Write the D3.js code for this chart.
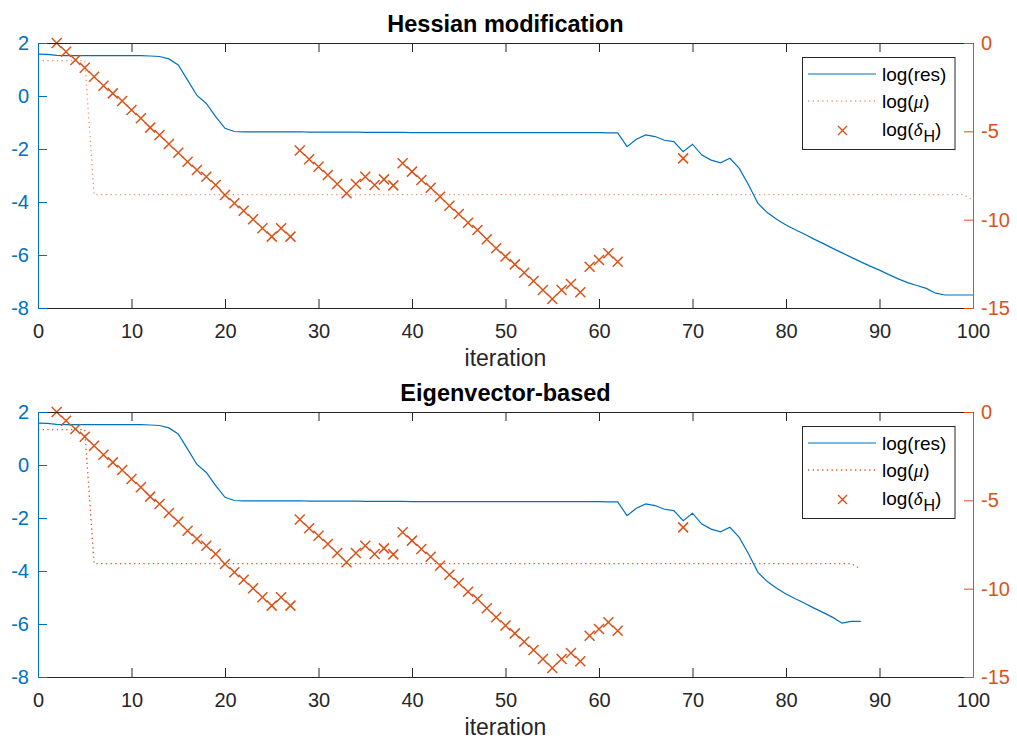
<!DOCTYPE html>
<html><head><meta charset="utf-8">
<script src="https://cdn.jsdelivr.net/npm/d3@7"></script>
<style>
body{margin:0;background:#fff}
svg{display:block}
text{font-family:"Liberation Sans",Arial,Helvetica,sans-serif}
</style>
</head><body>
<svg id="chart" width="1017" height="740"></svg>
<script>
// ---------------- data ----------------
const titles = ["Hessian modification", "Eigenvector-based"];
const xLabel = "iteration";
const xTicks = [0, 10, 20, 30, 40, 50, 60, 70, 80, 90, 100];
const leftTicks = [2, 0, -2, -4, -6, -8];
const rightTicks = [0, -5, -10, -15];
const legendLabels = ["log(res)", "log(μ)", "log(δH)"];

// log(res), one value per iteration 0..100 (top panel)
const resTop = [
  1.58, 1.57, 1.53, 1.52, 1.52, 1.52, 1.52, 1.52, 1.52, 1.52,
  1.52, 1.52, 1.51, 1.49, 1.40, 1.17, 0.60, 0.02, -0.28, -0.78,
  -1.22, -1.34, -1.35, -1.35, -1.35, -1.35, -1.35, -1.35, -1.35, -1.36,
  -1.36, -1.36, -1.36, -1.36, -1.36, -1.37, -1.37, -1.37, -1.37, -1.37,
  -1.38, -1.38, -1.38, -1.38, -1.38, -1.38, -1.38, -1.38, -1.38, -1.38,
  -1.38, -1.38, -1.38, -1.38, -1.38, -1.38, -1.38, -1.38, -1.38, -1.38,
  -1.38, -1.39, -1.39, -1.91, -1.63, -1.47, -1.53, -1.67, -1.72, -2.10,
  -1.82, -2.23, -2.42, -2.52, -2.35, -2.73, -3.36, -4.05, -4.40, -4.65,
  -4.87, -5.05, -5.22, -5.40, -5.57, -5.75, -5.92, -6.09, -6.26, -6.42,
  -6.57, -6.74, -6.90, -7.04, -7.15, -7.26, -7.44, -7.51, -7.51, -7.51,
  -7.51
];
// log(res), iterations 0..88 (bottom panel)
const resBottom = [
  1.58, 1.57, 1.53, 1.52, 1.52, 1.52, 1.52, 1.52, 1.52, 1.52,
  1.52, 1.52, 1.51, 1.49, 1.40, 1.17, 0.60, 0.02, -0.28, -0.78,
  -1.22, -1.34, -1.35, -1.35, -1.35, -1.35, -1.35, -1.35, -1.35, -1.36,
  -1.36, -1.36, -1.36, -1.36, -1.36, -1.37, -1.37, -1.37, -1.37, -1.37,
  -1.38, -1.38, -1.38, -1.38, -1.38, -1.38, -1.38, -1.38, -1.38, -1.38,
  -1.38, -1.38, -1.38, -1.38, -1.38, -1.38, -1.38, -1.38, -1.38, -1.38,
  -1.38, -1.39, -1.39, -1.91, -1.63, -1.47, -1.53, -1.67, -1.72, -2.10,
  -1.82, -2.23, -2.42, -2.52, -2.35, -2.73, -3.36, -4.05, -4.40, -4.65,
  -4.87, -5.05, -5.22, -5.40, -5.57, -5.75, -5.97, -5.90, -5.90
];

// log(mu): breakpoints of the piecewise-constant curve
const muTopIter = [0, 5, 6, 99, 100];
const muTopVal = [-1.0, -1.0, -8.58, -8.58, -8.9];
const muBottomIter = [0, 5, 6, 87, 88];
const muBottomVal = [-1.0, -1.0, -8.58, -8.58, -8.9];

// log(delta_H) markers (same in both panels)
const deltaIter = [
  2, 3, 4, 5, 6, 7, 8, 9, 10, 11, 12, 13, 14, 15, 16, 17, 18, 19, 20, 21, 22, 23, 24, 25, 26, 27,
  28, 29, 30, 31, 32, 33, 34, 35, 36, 37, 38, 39, 40, 41, 42, 43, 44, 45, 46, 47, 48, 49, 50,
  51, 52, 53, 54, 55, 56, 57, 58, 59, 60, 61, 62, 69
];
const deltaVal = [
  0.0, -0.49, -0.96, -1.40, -1.91, -2.42, -2.85, -3.28, -3.79, -4.26, -4.79, -5.21, -5.72,
  -6.21, -6.72, -7.19, -7.57, -8.04, -8.60, -9.07, -9.49, -9.98, -10.49, -10.96, -10.49, -10.96,
  -6.09, -6.58, -7.00, -7.47, -7.98, -8.51, -7.98, -7.57, -8.04, -7.72, -8.06, -6.81, -7.28,
  -7.75, -8.19, -8.70, -9.21, -9.68, -10.17, -10.58, -11.11, -11.62, -12.09, -12.53, -13.00,
  -13.47, -13.98, -14.49, -13.98, -13.64, -14.11, -12.66, -12.28, -11.90, -12.38, -6.53
];

// ---------------- drawing ----------------
const BLUE = "#0072BD", ORANGE = "#D95319", AX = "#262626";
const svg = d3.select("#chart");
const L = 38, R = 973;

const panels = [
  {title: titles[0], top: 43, bottom: 308, res: resTop, muI: muTopIter, muV: muTopVal, muColor: "#E8845A", muOpacity: 0.85},
  {title: titles[1], top: 412, bottom: 677, res: resBottom, muI: muBottomIter, muV: muBottomVal, muColor: ORANGE, muOpacity: 1}
];

const crossPath = s => `M${-s},${-s}L${s},${s}M${-s},${s}L${s},${-s}`;

panels.forEach(p => {
  const g = svg.append("g");
  const x = d3.scaleLinear().domain([0, 100]).range([L, R]);
  const yL = d3.scaleLinear().domain([-8, 2]).range([p.bottom, p.top]);
  const yR = d3.scaleLinear().domain([-15, 0]).range([p.bottom, p.top]);

  // data: mu (dotted)
  const muData = p.muI.map((d, i) => [d, p.muV[i]]);
  g.append("path").datum(muData)
    .attr("d", d3.line().x(d => x(d[0])).y(d => yR(d[1])))
    .attr("fill", "none").attr("stroke", p.muColor).attr("stroke-opacity", p.muOpacity)
    .attr("stroke-width", 1.3).attr("stroke-dasharray", "1.3,3.4");

  // res (solid)
  g.append("path").datum(p.res)
    .attr("d", d3.line().x((d, i) => x(i)).y(d => yL(d)))
    .attr("fill", "none").attr("stroke", BLUE).attr("stroke-width", 1.2);

  // delta markers
  g.append("g").selectAll("path").data(deltaIter)
    .join("path")
    .attr("transform", (d, i) => `translate(${x(d)},${yR(deltaVal[i])})`)
    .attr("d", crossPath(5))
    .attr("fill", "none").attr("stroke", ORANGE).attr("stroke-width", 1.5);

  // axes
  const fs = "20px";
  const xb = g.append("g").attr("transform", `translate(0,${p.bottom})`)
    .call(d3.axisBottom(x).tickValues(xTicks).tickSizeInner(-9).tickSizeOuter(0).tickPadding(16))
    .attr("font-size", fs).attr("font-family", null).attr("color", AX);
  const xt = g.append("g").attr("transform", `translate(0,${p.top})`)
    .call(d3.axisTop(x).tickValues(xTicks).tickSizeInner(-9).tickSizeOuter(0).tickFormat(""))
    .attr("color", AX);
  const yl = g.append("g").attr("transform", `translate(${L},0)`)
    .call(d3.axisLeft(yL).tickValues(leftTicks).tickSizeInner(-9).tickSizeOuter(0).tickPadding(9).tickFormat(d3.format("d")))
    .attr("font-size", fs).attr("font-family", null).attr("color", BLUE);
  const yr = g.append("g").attr("transform", `translate(${R},0)`)
    .call(d3.axisRight(yR).tickValues(rightTicks).tickSizeInner(-9).tickSizeOuter(0).tickPadding(8).tickFormat(d3.format("d")))
    .attr("font-size", fs).attr("font-family", null).attr("color", ORANGE);
  [xb, xt, yl, yr].forEach(a => a.selectAll("text").text(function(){ return this.textContent.replace("−", "-"); }));

  // title and x label
  g.append("text").attr("x", (L + R) / 2).attr("y", p.top - 11)
    .attr("text-anchor", "middle").attr("font-weight", "bold").attr("font-size", "23.5px")
    .attr("fill", "#000").text(p.title);
  g.append("text").attr("x", (L + R) / 2).attr("y", p.bottom + 58)
    .attr("text-anchor", "middle").attr("font-size", "23px").attr("fill", AX).text(xLabel);

  // legend
  const lg = g.append("g").attr("transform", `translate(0,${p.top})`);
  lg.append("rect").attr("x", 802.5).attr("y", 14.5).attr("width", 152.5).attr("height", 92)
    .attr("fill", "#fff").attr("stroke", AX).attr("stroke-width", 1);
  lg.append("line").attr("x1", 808).attr("x2", 876).attr("y1", 31).attr("y2", 31)
    .attr("stroke", BLUE).attr("stroke-width", 1.2);
  lg.append("line").attr("x1", 808).attr("x2", 876).attr("y1", 58).attr("y2", 58)
    .attr("stroke", p.muColor).attr("stroke-opacity", p.muOpacity).attr("stroke-width", 1.3).attr("stroke-dasharray", "1.3,3.4");
  lg.append("path").attr("transform", "translate(842.5,87.5)").attr("d", crossPath(4.5))
    .attr("fill", "none").attr("stroke", ORANGE).attr("stroke-width", 1.4);
  const tx = 882, lfs = "19px";
  lg.append("text").attr("x", tx).attr("y", 38).attr("font-size", lfs).attr("fill", "#000").text(legendLabels[0]);
  const t2 = lg.append("text").attr("x", tx).attr("y", 65).attr("font-size", lfs).attr("fill", "#000");
  t2.append("tspan").text("log(");
  t2.append("tspan").attr("font-family", "'Liberation Serif','DejaVu Serif',serif").attr("font-style", "italic").text("μ");
  t2.append("tspan").text(")");
  const t3 = lg.append("text").attr("x", tx).attr("y", 93).attr("font-size", lfs).attr("fill", "#000");
  t3.append("tspan").text("log(");
  t3.append("tspan").attr("font-family", "'Liberation Serif','DejaVu Serif',serif").attr("font-style", "italic").text("δ");
  t3.append("tspan").attr("dy", 6).attr("dx", 1).attr("font-size", "16px").text("H");
  t3.append("tspan").attr("dy", -6).text(")");
});
</script>
</body></html>
